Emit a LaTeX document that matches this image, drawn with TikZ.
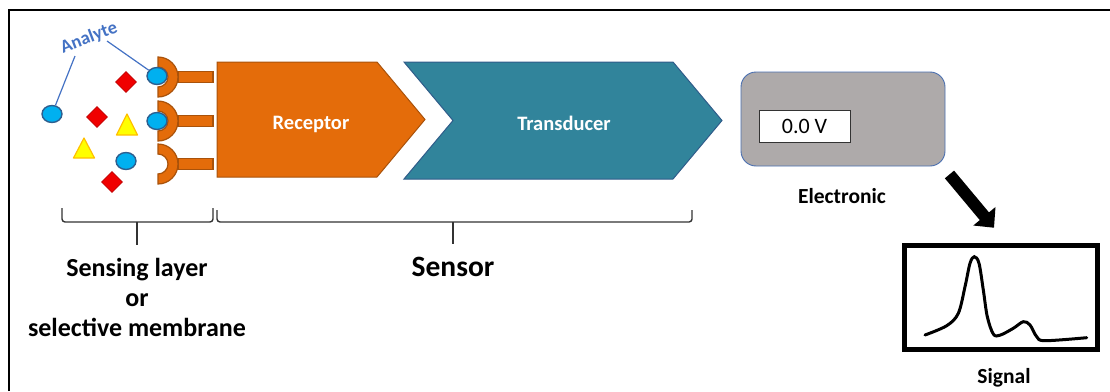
\documentclass[tikz,border=0pt]{standalone}
\usepackage{fontspec}
\setmainfont{Carlito}
\usetikzlibrary{shapes.geometric,arrows.meta,calc}

\definecolor{recfill}{HTML}{E46C0A}
\definecolor{recline}{HTML}{A9520A}
\definecolor{trfill}{HTML}{31849B}
\definecolor{trline}{HTML}{2F5C8A}
\definecolor{anafill}{HTML}{00B0F0}
\definecolor{analine}{HTML}{2E5F8F}
\definecolor{dmfill}{HTML}{F00000}
\definecolor{trifill}{HTML}{FFFF00}
\definecolor{triline}{HTML}{FFC000}
\definecolor{boxgray}{HTML}{AEAAAA}
\definecolor{boxline}{HTML}{4A6FB0}
\definecolor{labelblue}{HTML}{4472C4}
\definecolor{bracecol}{HTML}{333333}

\newcommand\fsz[2]{\fontsize{#1pt}{#2pt}\selectfont}

\tikzset{
  analyte/.style={ellipse, draw=analine, line width=1.4pt, fill=anafill,
    minimum width=20pt, minimum height=17pt, inner sep=0pt},
  dmd/.style={diamond, draw=dmfill!80!black, line width=0.6pt, fill=dmfill,
    minimum width=21pt, minimum height=21pt, inner sep=0pt},
  tri/.style={fill=trifill, draw=triline, line width=1.2pt, line join=round},
  cupstyle/.style={fill=recfill, draw=recline, line width=1.2pt},
  recstyle/.style={fill=recfill, draw=recline, line width=1pt},
  trstyle/.style={fill=trfill, draw=trline, line width=1pt},
  blocklabel/.style={anchor=base, text=white, font=\bfseries\fsz{20.5}{24}},
  caption/.style={anchor=base, text=black, font=\bfseries\fsz{#1}{#1}},
  labelline/.style={draw=labelblue, line width=1.2pt},
  bracestyle/.style={draw=bracecol, line width=1.4pt, rounded corners=3pt},
  elecbox/.style={rectangle, rounded corners=15pt, fill=boxgray, draw=boxline,
    line width=0.9pt, minimum width=204pt, minimum height=94pt},
  voltbox/.style={rectangle, fill=white, draw=black!80, line width=0.9pt,
    minimum width=91pt, minimum height=32pt, font=\fsz{22}{24}},
  sigbox/.style={rectangle, draw=black, line width=5.5pt,
    minimum width=193pt, minimum height=104pt},
  bigarrow/.style={draw=black, line width=12pt,
    -{Triangle[length=15pt,width=28pt]}}
}

\begin{document}
\begin{tikzpicture}[x=1pt,y=-1pt]
\useasboundingbox (0,0) rectangle (1110,391);

% outer frame
\draw[line width=2pt] (8.5,391) -- (8.5,10) -- (1110,10);

% receptor cups with stems
\foreach \cy in {77,121,164} {
  \draw[cupstyle] (178,\cy-5.5) rectangle (213,\cy+5.5);
  \draw[cupstyle] (158,\cy-20) arc[start angle=-90,end angle=90,radius=20]
    -- (158,\cy+10) arc[start angle=90,end angle=-90,radius=10] -- cycle;
}

% analyte label and pointers
\node[rotate=21, text=labelblue, font=\bfseries\fsz{18.5}{20}] (an) at (89,38) {Analyte};
\coordinate (l1) at (75,56);
\coordinate (l2) at (107,41);

% analytes and interferents
\node[analyte] (a1) at (52,114) {};
\node[analyte] (a2) at (157,76) {};
\node[analyte] (a3) at (157,121) {};
\node[analyte] (a4) at (126,161) {};
\draw[labelline] (l1) -- (a1);
\draw[labelline] (l2) -- (a2);

\node[dmd] (d1) at (126,82) {};
\node[dmd] (d2) at (97,117) {};
\node[dmd] (d3) at (112,182) {};

\draw[tri] (127,114) -- (137.5,135) -- (116.5,135) -- cycle;
\draw[tri] (84,138) -- (94.5,158) -- (73.5,158) -- cycle;

% receptor block
\draw[recstyle] (217,62) -- (377,62) -- (425,119.5) -- (377,177) -- (217,177) -- cycle;
\node[blocklabel] (rec) at (311,129) {Receptor};

% transducer block
\draw[trstyle] (404,62) -- (673,62) -- (722,120.5) -- (673,179) -- (404,179)
  -- (453,120.5) -- cycle;
\node[blocklabel] (trd) at (564,130) {Transducer};

% electronics
\node[elecbox] (elec) at (843,119) {};
\node[voltbox] (volt) at (804.5,126) {0.0 V};
\node[caption=21.5] (elbl) at (842,203) {Electronic};

% signal output
\node[sigbox] (sig) at (1001,297.5) {};
\draw[line width=3pt, line cap=round] plot[smooth, tension=0.55] coordinates {
  (925,335) (946.7,325.7) (958.3,313.3) (965,286.7) (970,263.3) (974.3,256.7)
  (979,263.3) (983.3,290) (987.3,316.7) (993.3,334) (1000,335.2) (1013.3,328.3)
  (1023.3,321.7) (1030,325) (1036.7,336.7) (1045,340.7) (1086.7,337.7)};
\node[caption=21.5] (slbl) at (1004,383) {Signal};

\coordinate (arrS) at ($(elec.south east)+(4,8)$);
\coordinate (arrE) at ($(sig.north)+(-7,-15)$);
\draw[bigarrow] (arrS) -- (arrE);

% braces
\draw[bracestyle] (62,208) -- (62,222) -- (213,222) -- (213,208);
\draw[bracestyle] (137,222) -- (137,245);
\draw[bracestyle] (217,210) -- (217,222) -- (692,222) -- (692,210);
\draw[bracestyle] (453,222) -- (453,244);

% captions under braces
\node[caption=26] (sl1) at (137,276) {Sensing layer};
\node[caption=26] (sl2) at (137,306) {or};
\node[caption=26] (sl3) at (137,336) {selective membrane};
\node[caption=29.5] (sens) at (453,276) {Sensor};
\end{tikzpicture}
\end{document}
